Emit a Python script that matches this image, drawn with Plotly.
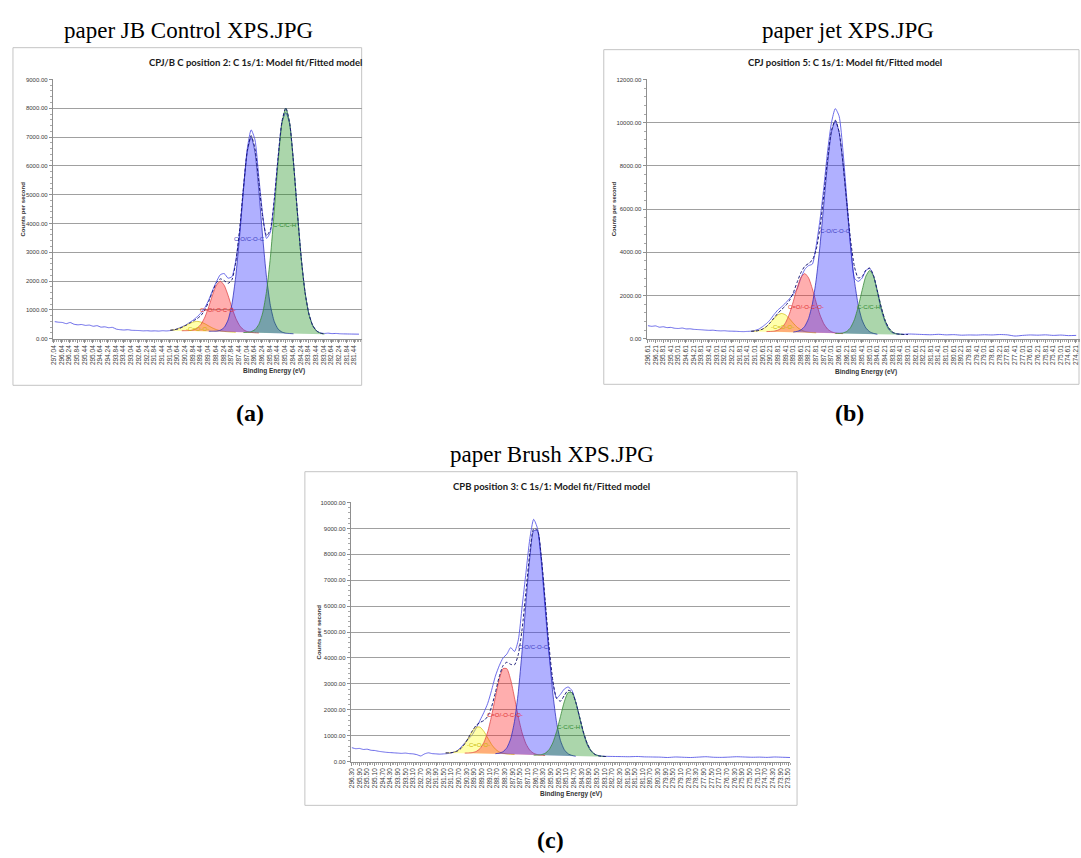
import plotly.graph_objects as go

W, H = 1081, 858

# ---------------- Panel (a): paper JB Control ----------------
A_GRID = [291.0, 290.8, 290.6, 290.4, 290.2, 290.0, 289.8, 289.6, 289.4, 289.2, 289.0,
          288.8, 288.6, 288.4, 288.2, 288.0, 287.8, 287.6, 287.4, 287.2, 287.0,
          286.8, 286.6, 286.4, 286.2, 286.0, 285.8, 285.6, 285.4, 285.2, 285.0,
          284.8, 284.6, 284.4, 284.2, 284.0, 283.8, 283.6, 283.4, 283.2, 283.0]
A_BG = [278, 277, 276, 275, 274, 272, 270, 268, 265, 262, 258, 254, 249, 244, 238, 233,
        228, 223, 218, 213, 209, 205, 201, 197, 194, 191, 188, 185, 182, 179, 176, 173,
        170, 167, 164, 161, 158, 156, 154, 152, 150]
A_YEL = [13, 31, 63, 115, 182, 253, 309, 330, 309, 253, 182, 115, 63, 31, 13, 5, 2] + [0] * 24
A_RED = [0] * 4 + [3, 10, 35, 98, 236, 487, 852, 1271, 1615, 1750, 1615, 1271, 852, 487,
                   236, 98, 35, 10, 3] + [0] * 18
A_BLU = [0] * 11 + [4, 14, 50, 150, 410, 960, 1930, 3330, 4940, 6276, 6800, 6276, 4940, 3330,
                    1930, 960, 410, 150, 50, 14, 4] + [0] * 9
A_GRN = [0] * 20 + [10, 38, 112, 298, 700, 1450, 2640, 4230, 5951, 7313, 7830, 7313, 5951,
                    4230, 2640, 1450, 700, 298, 112, 38, 12]
A_MEAS_E = ([297.0, 296.8, 296.6, 296.4, 296.2, 296.0, 295.8, 295.6, 295.4, 295.2, 295.0,
             294.8, 294.6, 294.4, 294.2, 294.0, 293.8, 293.6, 293.4, 293.2, 293.0, 292.8,
             292.6, 292.4, 292.2, 292.0, 291.8, 291.6, 291.4, 291.2]
            + A_GRID + [282.8, 282.6, 282.4, 282.2, 282.0, 281.6, 281.2])
A_MEAS = ([590, 570, 560, 520, 560, 500, 480, 490, 460, 470, 430, 450, 400, 410, 380, 390,
           330, 310, 300, 310, 290, 285, 280, 270, 275, 265, 270, 262, 275, 268]
          + [280, 300, 350, 410, 470, 560, 650, 760, 900, 1080, 1350, 1680, 1980, 2220, 2260,
             2100, 2150, 2700, 3700, 5200, 6600, 7250, 6900, 5600, 4300, 3480, 3700, 4800,
             6300, 7500, 7850, 7450, 6100, 4400, 2800, 1600, 850, 450, 270, 200, 180]
          + [190, 175, 180, 170, 165, 160, 155])
A_TICKS = [round(297.04 - 0.4 * k, 2) for k in range(41)]
A_TITLE = "CPJ/B C position 2: C 1s/1: Model fit/Fitted model"

# ---------------- Panel (b): paper jet ----------------
B_GRID = [291.2, 291.0, 290.8, 290.6, 290.4, 290.2, 290.0, 289.8, 289.6, 289.4, 289.2,
          289.0, 288.8, 288.6, 288.4, 288.2, 288.0, 287.8, 287.6, 287.4, 287.2, 287.0,
          286.8, 286.6, 286.4, 286.2, 286.0, 285.8, 285.6, 285.4, 285.2, 285.0, 284.8,
          284.6, 284.4, 284.2, 284.0, 283.8, 283.6, 283.4, 283.2, 283.0]
B_BG = [335, 333, 331, 329, 327, 325, 322, 319, 316, 312, 308, 303, 298, 292, 286, 280,
        274, 268, 262, 256, 251, 246, 241, 236, 232, 228, 224, 221, 218, 215, 212, 209,
        206, 204, 202, 200, 198, 196, 195, 194, 193, 192]
B_YEL = [5, 17, 48, 115, 236, 414, 617, 785, 850, 785, 617, 414, 236, 115, 48, 17, 5] + [0] * 25
B_RED = [0] * 5 + [7, 24, 73, 190, 429, 835, 1403, 2031, 2536, 2730, 2536, 2031, 1403, 835,
                   429, 190, 73, 24, 7] + [0] * 18
B_BLU = [0] * 12 + [38, 109, 282, 647, 1330, 2453, 4048, 5979, 7890, 9318, 9850, 9318, 7890,
                    5979, 4048, 2453, 1330, 647, 282, 109, 38] + [0] * 9
B_GRN = [0] * 23 + [8, 32, 105, 290, 660, 1260, 2010, 2680, 2950, 2680, 2010, 1260, 660, 290,
                    105, 32, 8] + [0] * 2
B_MEAS_E = ([296.6, 296.4, 296.2, 296.0, 295.8, 295.6, 295.4, 295.2, 295.0, 294.8, 294.6,
             294.4, 294.2, 294.0, 293.8, 293.6, 293.4, 293.2, 293.0, 292.8, 292.6, 292.4,
             292.2, 292.0, 291.8, 291.6, 291.4]
            + B_GRID
            + [282.6, 282.2, 281.8, 281.4, 281.0, 280.6, 280.2, 279.8, 279.4, 279.0, 278.6,
               278.2, 277.8, 277.4, 277.0, 276.6, 276.2, 275.8, 275.4, 275.0, 274.6, 274.2])
B_MEAS = ([600, 570, 590, 530, 550, 510, 520, 480, 470, 490, 450, 455, 430, 420, 410, 395,
           385, 390, 370, 360, 365, 350, 345, 340, 330, 325, 335]
          + [345, 380, 440, 560, 700, 880, 1120, 1330, 1480, 1650, 1850, 2050, 2300, 2800,
             3200, 3380, 3450, 4300, 5500, 7000, 8700, 10000, 10650, 10300, 8700, 6500, 4300,
             2800, 2650, 2800, 3150, 3250, 2900, 2150, 1350, 780, 420, 270, 220, 210, 200, 215]
          + [205, 190, 180, 200, 175, 185, 160, 170, 165, 180, 170, 190, 175, 120, 150, 170,
             160, 175, 150, 165, 140, 150])
B_TICKS = [round(296.61 - 0.4 * k, 2) for k in range(57)]
B_TITLE = "CPJ position 5: C 1s/1: Model fit/Fitted model"

# ---------------- Panel (c): paper Brush ----------------
C_GRID = [291.4, 291.2, 291.0, 290.8, 290.6, 290.4, 290.2, 290.0, 289.8, 289.6, 289.4,
          289.2, 289.0, 288.8, 288.6, 288.4, 288.2, 288.0, 287.8, 287.6, 287.4, 287.2,
          287.0, 286.8, 286.6, 286.4, 286.2, 286.0, 285.8, 285.6, 285.4, 285.2, 285.0,
          284.8, 284.6, 284.4, 284.2, 284.0, 283.8, 283.6, 283.4, 283.2, 283.0]
C_BG = [335, 334, 333, 332, 331, 330, 328, 326, 324, 321, 318, 315, 311, 307, 302, 297,
        292, 286, 280, 274, 268, 262, 257, 252, 247, 242, 238, 234, 230, 226, 222, 219,
        216, 213, 210, 208, 206, 204, 202, 200, 199, 198, 197]
C_YEL = [2, 8, 26, 75, 177, 355, 598, 848, 1008, 1008, 848, 598, 355, 177, 75, 26, 8, 2] + [0] * 25
C_RED = [0] * 6 + [7, 23, 71, 185, 422, 834, 1447, 2181, 2871, 3293, 3293, 2871, 2181, 1447,
                   834, 422, 185, 71, 23, 7] + [0] * 17
C_BLU = [0] * 14 + [28, 88, 244, 595, 1276, 2420, 4030, 5905, 7621, 8659, 8659, 7621, 5905,
                    4030, 2420, 1276, 595, 244, 88, 28] + [0] * 9
C_GRN = [0] * 24 + [8, 28, 85, 222, 495, 938, 1516, 2088, 2450, 2450, 2088, 1516, 938, 495,
                    222, 85, 28, 8] + [0] * 1
C_MEAS_E = ([296.3, 296.1, 295.9, 295.7, 295.5, 295.3, 295.1, 294.9, 294.7, 294.5, 294.3,
             294.1, 293.9, 293.7, 293.5, 293.3, 293.1, 292.9, 292.7, 292.5, 292.3, 292.1,
             291.9, 291.7, 291.5]
            + C_GRID
            + [282.6, 282.2, 281.8, 281.4, 281.0, 280.6, 280.2, 279.8, 279.4, 279.0, 278.6,
               278.2, 277.8, 277.4, 277.0, 276.6, 276.2, 275.8, 275.4, 275.0, 274.6, 274.2,
               273.8, 273.4])
C_MEAS = ([540, 500, 510, 470, 480, 440, 430, 400, 380, 360, 350, 340, 330, 320, 330, 310,
           300, 270, 220, 300, 340, 310, 300, 290, 300]
          + [305, 320, 360, 420, 560, 720, 880, 1050, 1300, 1600, 1900, 2250, 2750, 3300, 3700,
             4000, 4150, 4400, 4250, 4700, 6000, 7300, 8600, 9350, 9000, 7700, 5900, 4200,
             3000, 2450, 2600, 2800, 2880, 2750, 2300, 1700, 1100, 650, 400, 280, 230, 210, 205]
          + [200, 195, 190, 200, 185, 180, 175, 160, 180, 170, 160, 175, 190, 170, 165, 175,
             190, 180, 170, 175, 165, 180, 170, 160])
C_TICKS = [round(296.30 - 0.4 * k, 2) for k in range(58)]
C_TITLE = "CPB position 3: C 1s/1: Model fit/Fitted model"

PEAK_NAMES = ["-C=O-O-", "C=O/-O-C-O-", "C-O/C-O-C", "C-C/C-H"]
FILLS = ["rgba(255,255,0,0.33)", "rgba(255,30,30,0.36)", "rgba(40,40,255,0.37)", "rgba(0,130,0,0.33)"]
EDGES = ["#d4c21a", "#e04a4a", "#3232c0", "#3a8a3a"]
TEXTC = ["#c9b800", "#e03030", "#3a3ac0", "#2f8a2f"]

fig = go.Figure()


def px(x):
    return x / W


def py(y):
    return 1 - y / H


def add_panel(n, grid, bg, comps, meas_e, meas, label_pos):
    xa, ya = ("x", "y") if n == 1 else ("x%d" % n, "y%d" % n)
    env = [b + sum(c[i] for c in comps) for i, b in enumerate(bg)]
    # measured spectrum
    fig.add_trace(go.Scatter(x=meas_e, y=meas, mode="lines", xaxis=xa, yaxis=ya,
                             line=dict(color="#5a5ae6", width=0.9, shape="spline", smoothing=0.6),
                             hoverinfo="skip", showlegend=False))
    for comp, fc, ec in zip(comps, FILLS, EDGES):
        idx = [i for i, v in enumerate(comp) if v > 0]
        lo, hi = max(idx[0] - 1, 0), min(idx[-1] + 2, len(grid))
        xs = grid[lo:hi]
        base = bg[lo:hi]
        top = [b + c for b, c in zip(base, comp[lo:hi])]
        fig.add_trace(go.Scatter(x=xs, y=base, mode="lines", xaxis=xa, yaxis=ya,
                                 line=dict(width=0, color=ec), hoverinfo="skip", showlegend=False))
        fig.add_trace(go.Scatter(x=xs, y=top, mode="lines", xaxis=xa, yaxis=ya, fill="tonexty",
                                 fillcolor=fc, line=dict(color=ec, width=0.8, shape="spline", smoothing=0.6),
                                 hoverinfo="skip", showlegend=False))
    # model envelope
    fig.add_trace(go.Scatter(x=grid, y=env, mode="lines", xaxis=xa, yaxis=ya,
                             line=dict(color="#1c1c78", width=1.0, dash="3px,2px", shape="spline", smoothing=0.6),
                             hoverinfo="skip", showlegend=False))
    for (ex, ev), name, col in zip(label_pos, PEAK_NAMES, TEXTC):
        fig.add_annotation(x=ex, y=ev, xref=xa, yref=ya, text=name, showarrow=False,
                           font=dict(family="Liberation Sans", size=6, color=col))


add_panel(1, A_GRID, A_BG, [A_YEL, A_RED, A_BLU, A_GRN], A_MEAS_E, A_MEAS,
          [(289.6, 330), (288.5, 990), (286.86, 3470), (285.08, 3955)])
add_panel(2, B_GRID, B_BG, [B_YEL, B_RED, B_BLU, B_GRN], B_MEAS_E, B_MEAS,
          [(289.55, 560), (288.33, 1470), (286.79, 4985), (285.05, 1470)])
add_panel(3, C_GRID, C_BG, [C_YEL, C_RED, C_BLU, C_GRN], C_MEAS_E, C_MEAS,
          [(289.66, 640), (288.28, 1805), (286.8, 4415), (284.97, 1325)])

AX = "#8f8f8f"


def xaxis(dom, rng, ticks):
    return dict(domain=[px(dom[0]), px(dom[1])], range=rng, tickmode="array",
                tickvals=ticks, ticktext=["%.2f" % t for t in ticks], tickangle=-90,
                tickfont=dict(family="Liberation Sans", size=6.5, color="#3a3a3a"),
                showgrid=False, zeroline=False, showline=True, linecolor=AX, linewidth=1,
                ticks="outside", ticklen=3, tickcolor=AX, tickwidth=1,
                minor=dict(dtick=0.1, ticks="outside", ticklen=2, tickcolor="#a8a8a8", showgrid=False),
                fixedrange=True)


def yaxis(dom, top, dt, anchor):
    return dict(domain=[py(dom[1]), py(dom[0])], range=[0, top], dtick=dt, tickformat=".2f",
                tickfont=dict(family="Liberation Sans", size=6, color="#3a3a3a"),
                showgrid=True, gridcolor="#a0a0a0", gridwidth=1, zeroline=False,
                showline=True, linecolor=AX, linewidth=1, ticks="outside", ticklen=3,
                tickcolor=AX, minor=dict(dtick=dt / 5, ticks="outside", ticklen=2, tickcolor="#a8a8a8",
                                         showgrid=False),
                anchor=anchor, fixedrange=True)


fig.update_layout(
    width=W, height=H, margin=dict(l=0, r=0, t=0, b=0),
    paper_bgcolor="white", plot_bgcolor="white", showlegend=False,
    xaxis=dict(xaxis((50, 360), [297.1, 281.06], A_TICKS), anchor="y"),
    yaxis=yaxis((77, 338), 9000, 1000, "x"),
    xaxis2=dict(xaxis((646, 1081), [296.67, 274.0], B_TICKS), anchor="y2"),
    yaxis2=yaxis((77, 338), 12000, 2000, "x2"),
    xaxis3=dict(xaxis((349, 790), [296.36, 273.4], C_TICKS), anchor="y3"),
    yaxis3=yaxis((503, 764), 10000, 1000, "x3"),
)

# screenshot frames
for x0, y0, x1, y1 in [(10, 45, 360, 385), (603, 47, 1080, 384), (303, 472, 797, 808)]:
    fig.add_shape(type="rect", xref="paper", yref="paper", x0=px(x0), x1=px(x1), y0=py(y1), y1=py(y0),
                  line=dict(color="#c4c4c4", width=1), fillcolor="rgba(0,0,0,0)", layer="below")


def ann(x, y, text, size, family, color="black", angle=0, xanchor="center", bold=False):
    fig.add_annotation(x=px(x), y=py(y), xref="paper", yref="paper", text=("<b>%s</b>" % text) if bold else text,
                       showarrow=False, xanchor=xanchor, yanchor="middle", textangle=angle,
                       font=dict(family=family, size=size, color=color))


SERIF = "Liberation Serif"
ann(186, 28, "paper JB Control XPS.JPG", 23, SERIF)
ann(848, 28, "paper jet XPS.JPG", 23, SERIF)
ann(551, 455, "paper Brush XPS.JPG", 23, SERIF)
ann(248, 413, "(a)", 24, SERIF, bold=True)
ann(850, 413, "(b)", 24, SERIF, bold=True)
ann(550, 843, "(c)", 24, SERIF, bold=True)

ann(362, 60, A_TITLE, 9.5, "Lato", "#1a1a1a", xanchor="right", bold=True)
ann(845, 60, B_TITLE, 9.5, "Lato", "#1a1a1a", bold=True)
ann(551, 487, C_TITLE, 9.5, "Lato", "#1a1a1a", bold=True)

for x, y in [(272, 371), (866, 372), (570, 797)]:
    ann(x, y, "Binding Energy (eV)", 6.5, "Liberation Sans", "#333333", bold=True)
for x, y in [(20, 207), (613, 207), (317, 633)]:
    ann(x, y, "Counts per second", 6, "Liberation Sans", "#333333", angle=-90, bold=True)

fig.write_html("out.html")
